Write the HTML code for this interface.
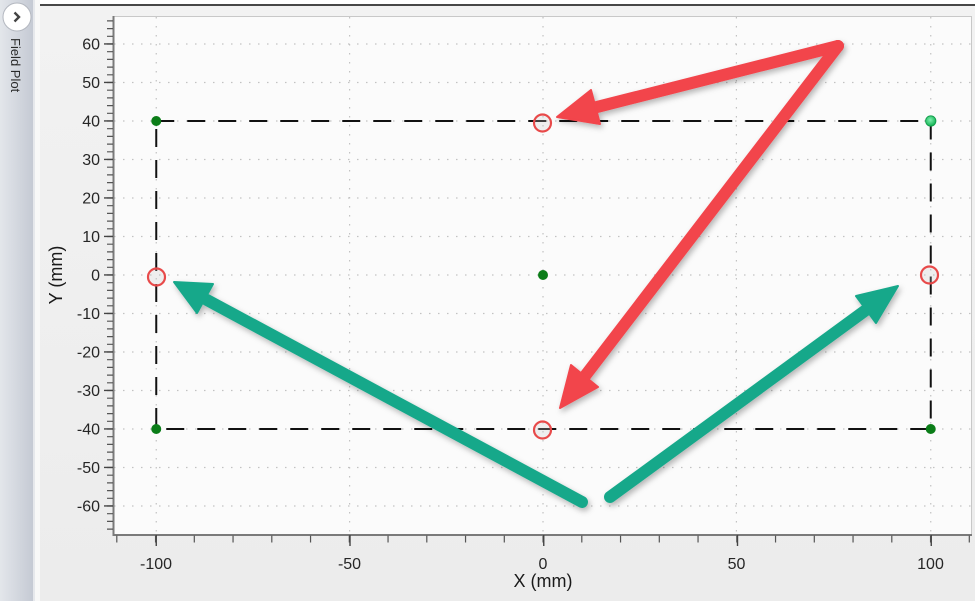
<!DOCTYPE html>
<html>
<head>
<meta charset="utf-8">
<style>
  html,body{margin:0;padding:0;}
  body{width:975px;height:601px;overflow:hidden;background:#f0f0f0;font-family:"Liberation Sans",sans-serif;}
  svg{display:block;}
</style>
</head>
<body>
<svg width="975" height="601" viewBox="0 0 975 601" xmlns="http://www.w3.org/2000/svg">
  <defs>
    <linearGradient id="panel" x1="0" y1="0" x2="1" y2="0">
      <stop offset="0" stop-color="#e3e6eb"/>
      <stop offset="1" stop-color="#c4c9d3"/>
    </linearGradient>
    <linearGradient id="bgv" x1="0" y1="0" x2="0" y2="1">
      <stop offset="0" stop-color="#f2f2f2"/>
      <stop offset="1" stop-color="#ececec"/>
    </linearGradient>
    <radialGradient id="lg" cx="0.45" cy="0.4" r="0.6">
      <stop offset="0" stop-color="#7ff0b0"/>
      <stop offset="1" stop-color="#10b050"/>
    </radialGradient>
    <filter id="sh" x="-20%" y="-20%" width="140%" height="140%">
      <feDropShadow dx="2" dy="3" stdDeviation="3" flood-color="#000" flood-opacity="0.28"/>
    </filter>
  </defs>

  <!-- backgrounds -->
  <rect x="0" y="0" width="975" height="601" fill="url(#bgv)"/>
  <rect x="0" y="0" width="975" height="5" fill="#ffffff"/>
  <rect x="40" y="4" width="935" height="2" fill="#474747"/>

  <!-- left panel -->
  <rect x="0" y="0" width="34" height="601" fill="url(#panel)"/>
  <rect x="33" y="0" width="2" height="601" fill="#e6e8ec"/>
  <rect x="35" y="0" width="5" height="601" fill="#f8f8f8"/>
  <circle cx="17" cy="17" r="14" fill="#ffffff" stroke="#b4b8c0" stroke-width="1"/>
  <path d="M14.5 12.5 L19 17 L14.5 21.5" fill="none" stroke="#444" stroke-width="2.4"/>
  <text x="11" y="38" transform="rotate(90 11 38)" font-size="13" fill="#2a2a2a" font-family="Liberation Sans, sans-serif">Field Plot</text>

  <!-- plot area -->
  <rect x="113.5" y="16.5" width="858" height="518" fill="#fbfbfb" stroke="#c8c8c8" stroke-width="1"/>

  <!-- grid dotted -->
  <g stroke="#c2c2c2" stroke-width="1.2" stroke-dasharray="1.5 7.5" fill="none">
    <line x1="114" y1="44" x2="971" y2="44"/>
    <line x1="114" y1="82.5" x2="971" y2="82.5"/>
    <line x1="114" y1="121" x2="971" y2="121"/>
    <line x1="114" y1="159.5" x2="971" y2="159.5"/>
    <line x1="114" y1="198" x2="971" y2="198"/>
    <line x1="114" y1="236.5" x2="971" y2="236.5"/>
    <line x1="114" y1="275" x2="971" y2="275"/>
    <line x1="114" y1="313.5" x2="971" y2="313.5"/>
    <line x1="114" y1="352" x2="971" y2="352"/>
    <line x1="114" y1="390.5" x2="971" y2="390.5"/>
    <line x1="114" y1="429" x2="971" y2="429"/>
    <line x1="114" y1="467.5" x2="971" y2="467.5"/>
    <line x1="114" y1="506" x2="971" y2="506"/>
    <line x1="156.25" y1="17" x2="156.25" y2="534"/>
    <line x1="349.6" y1="17" x2="349.6" y2="534"/>
    <line x1="543" y1="17" x2="543" y2="534"/>
    <line x1="736.4" y1="17" x2="736.4" y2="534"/>
    <line x1="930.75" y1="17" x2="930.75" y2="534"/>
  </g>

  <!-- axes lines -->
  <line x1="113.5" y1="16" x2="113.5" y2="535" stroke="#7a7a7a" stroke-width="2"/>
  <line x1="112.5" y1="535" x2="972" y2="535" stroke="#7a7a7a" stroke-width="2"/>

  <!-- Y ticks -->
  <line x1="110" y1="529.7" x2="110" y2="20" stroke="#555" stroke-width="6" stroke-dasharray="1.2 6.5"/>
  <line x1="108.5" y1="506.6" x2="108.5" y2="40" stroke="#444" stroke-width="9" stroke-dasharray="1.4 37.1"/>
  <!-- X ticks -->
  <line x1="116.2" y1="539" x2="972" y2="539" stroke="#555" stroke-width="7" stroke-dasharray="1.2 37.55"/>
  <line x1="155.55" y1="540.5" x2="935" y2="540.5" stroke="#444" stroke-width="11" stroke-dasharray="1.4 192.35"/>

  <!-- Y labels -->
  <g font-size="16" fill="#262626" text-anchor="end" font-family="Liberation Sans, sans-serif">
    <text x="100" y="49.5">60</text>
    <text x="100" y="88">50</text>
    <text x="100" y="126.5">40</text>
    <text x="100" y="165">30</text>
    <text x="100" y="203.5">20</text>
    <text x="100" y="242">10</text>
    <text x="100" y="280.5">0</text>
    <text x="100" y="319">-10</text>
    <text x="100" y="357.5">-20</text>
    <text x="100" y="396">-30</text>
    <text x="100" y="434.5">-40</text>
    <text x="100" y="473">-50</text>
    <text x="100" y="511.5">-60</text>
  </g>
  <!-- X labels -->
  <g font-size="16" fill="#262626" text-anchor="middle" font-family="Liberation Sans, sans-serif">
    <text x="156" y="569">-100</text>
    <text x="349.5" y="569">-50</text>
    <text x="543" y="569">0</text>
    <text x="736.5" y="569">50</text>
    <text x="930.5" y="569">100</text>
  </g>
  <text x="543" y="587" font-size="18" fill="#1a1a1a" text-anchor="middle" font-family="Liberation Sans, sans-serif">X (mm)</text>
  <text x="62" y="275" font-size="18" fill="#1a1a1a" text-anchor="middle" transform="rotate(-90 62 275)" font-family="Liberation Sans, sans-serif">Y (mm)</text>

  <!-- dashed rectangle -->
  <rect x="156.25" y="121" width="774.5" height="308" fill="none" stroke="#111" stroke-width="2" stroke-dasharray="18 13"/>

  <!-- green points -->
  <g fill="#0b7d18">
    <circle cx="156.25" cy="121" r="5"/>
    <circle cx="156.25" cy="429" r="5"/>
    <circle cx="543" cy="275" r="5"/>
    <circle cx="930.75" cy="429" r="5"/>
  </g>
  <circle cx="930.75" cy="121" r="5.2" fill="url(#lg)" stroke="#0e9a48" stroke-width="0.8"/>

  <!-- red circles -->
  <g fill="rgba(200,200,200,0.25)" stroke="#e84a4a" stroke-width="2.2">
    <circle cx="542.5" cy="123" r="8.5"/>
    <circle cx="156.5" cy="277" r="8.5"/>
    <circle cx="929.5" cy="275" r="8.5"/>
    <circle cx="542.5" cy="430" r="8.5"/>
  </g>

  <!-- arrows -->
  <g filter="url(#sh)">
    <line x1="838" y1="46" x2="597" y2="107" stroke="#f2444c" stroke-width="12" stroke-linecap="round"/>
    <polygon points="557,117 600,124 591,90" fill="#f2444c" stroke="#f2444c" stroke-width="2" stroke-linejoin="round"/>
    <line x1="838" y1="46" x2="585" y2="376" stroke="#f2444c" stroke-width="12" stroke-linecap="round"/>
    <polygon points="560,408 598,387 571,365" fill="#f2444c" stroke="#f2444c" stroke-width="2" stroke-linejoin="round"/>
    <line x1="582" y1="502" x2="207" y2="300" stroke="#17a88a" stroke-width="12" stroke-linecap="round"/>
    <polygon points="174,282 213,284 197,313" fill="#17a88a" stroke="#17a88a" stroke-width="2" stroke-linejoin="round"/>
    <line x1="610" y1="497" x2="866" y2="310" stroke="#17a88a" stroke-width="12" stroke-linecap="round"/>
    <polygon points="898,286 876,323 856,296" fill="#17a88a" stroke="#17a88a" stroke-width="2" stroke-linejoin="round"/>
  </g>
</svg>
</body>
</html>
